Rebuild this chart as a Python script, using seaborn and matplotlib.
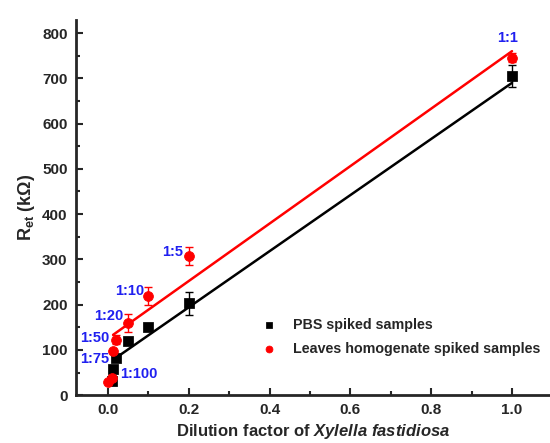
import numpy as np
import pandas as pd
import seaborn as sns
import matplotlib.pyplot as plt

# data
pbs_x = [0.01, 0.0133, 0.02, 0.05, 0.1, 0.2, 1.0]
pbs_y = [32, 57, 82, 120, 150, 203, 705]
pbs_err = [0, 0, 0, 0, 0, 25, 25]

leaves_x = [0.0, 0.01, 0.0133, 0.02, 0.05, 0.1, 0.2, 1.0]
leaves_y = [28, 38, 97, 122, 160, 220, 308, 745]
leaves_err = [0, 0, 0, 10, 20, 20, 20, 10]

# linear fits (slope, intercept, x range)
pbs_fit = (620, 70)
pbs_fit_x = [0.02, 1.0]
leaves_fit = (635, 125)
leaves_fit_x = [0.013, 1.0]

labels = ['1:1', '1:5', '1:10', '1:20', '1:50', '1:75', '1:100']
label_x = [0.99, 0.161, 0.054, 0.003, -0.032, -0.032, 0.077]
label_y = [789, 316, 230, 175, 126, 80, 46]

sns.set_style("ticks")
plt.rcParams['font.family'] = ['Liberation Sans', 'DejaVu Sans']
plt.rcParams['font.weight'] = 'bold'
plt.rcParams['mathtext.fontset'] = 'custom'
plt.rcParams['mathtext.rm'] = 'Liberation Sans:bold'
plt.rcParams['mathtext.it'] = 'Liberation Sans:bold:italic'
plt.rcParams['mathtext.bf'] = 'Liberation Sans:bold'

fig = plt.figure(figsize=(5.5, 4.43), dpi=100)
ax = fig.add_axes([0.138, 0.108, 0.862, 0.847])

pbs = pd.DataFrame({'x': pbs_x, 'y': pbs_y})
leaves = pd.DataFrame({'x': leaves_x, 'y': leaves_y})

fx = np.array(pbs_fit_x)
sns.lineplot(x=fx, y=pbs_fit[0] * fx + pbs_fit[1], color='black', lw=1.8, ax=ax)
fx = np.array(leaves_fit_x)
sns.lineplot(x=fx, y=leaves_fit[0] * fx + leaves_fit[1], color='red', lw=1.8, ax=ax)

ax.errorbar(pbs_x, pbs_y, yerr=pbs_err, fmt='none', ecolor='black', elinewidth=1, capsize=3)
ax.errorbar(leaves_x, leaves_y, yerr=leaves_err, fmt='none', ecolor='red', elinewidth=1, capsize=3)

sns.scatterplot(data=pbs, x='x', y='y', marker='s', color='black', s=45,
                edgecolor='black', label='PBS spiked samples', ax=ax, zorder=3)
sns.scatterplot(data=leaves, x='x', y='y', marker='o', color='red', s=50,
                edgecolor='red', label='Leaves homogenate spiked samples', ax=ax, zorder=3)

for t, lx, ly in zip(labels, label_x, label_y):
    ax.text(lx, ly, t, color='#2020f0', fontsize=10.5, fontweight='bold', ha='center', va='center')

ax.set_xlim(-0.079, 1.094)
ax.set_ylim(0, 829)
ax.set_xticks([0.0, 0.2, 0.4, 0.6, 0.8, 1.0])
ax.set_xticks(np.arange(0.1, 1.0, 0.2), minor=True)
ax.set_yticks(range(0, 801, 100))
ax.set_yticks(range(50, 801, 100), minor=True)
ax.tick_params(which='both', direction='in', width=1.5, labelsize=11)
ax.tick_params(which='major', length=5, pad=6)
ax.tick_params(which='minor', length=3)
for lab in ax.get_xticklabels() + ax.get_yticklabels():
    lab.set_fontweight('bold')
sns.despine(ax=ax)
ax.spines['left'].set_linewidth(2)
ax.spines['bottom'].set_linewidth(2)

ax.set_xlabel(r'Dilution factor of $\mathit{Xylella\ fastidiosa}$', fontsize=12, fontweight='bold', labelpad=3)
ax.set_ylabel(r'R$_{\mathbf{et}}$ (k$\Omega$)', fontsize=13, fontweight='bold', labelpad=4)

leg = ax.legend(loc='upper left', bbox_to_anchor=(0.392, 0.205), frameon=False,
                borderaxespad=0, borderpad=0, handlelength=1.0,
                fontsize=10.3, handletextpad=1.2, labelspacing=0.65, markerscale=0.7)
for t in leg.get_texts():
    t.set_fontweight('bold')

fig.savefig('out.png', dpi=100)
